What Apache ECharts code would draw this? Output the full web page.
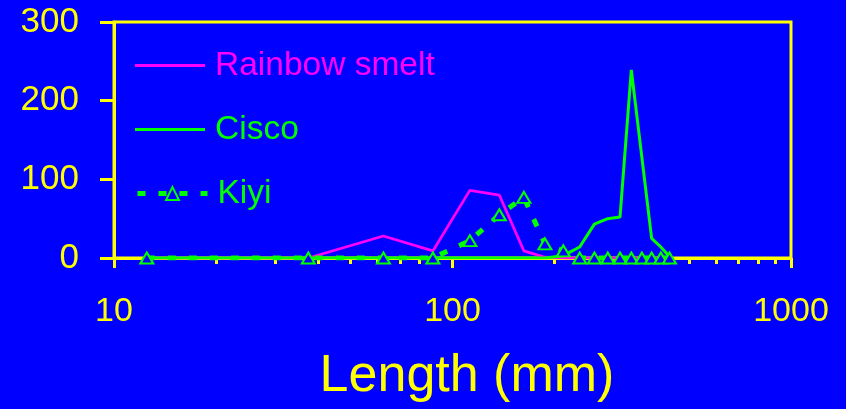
<!DOCTYPE html>
<html>
<head>
<meta charset="utf-8">
<script src="https://cdn.jsdelivr.net/npm/echarts@6/dist/echarts.min.js"></script>
<style>
html,body{margin:0;padding:0;background:#0000FF;}
#chart{width:846px;height:409px;}
</style>
</head>
<body>
<div id="chart"></div>
<script>
// Length bin midpoints (mm)
var lengths = [12.5, 37.5, 62.5, 87.5, 112.5, 137.5, 162.5, 187.5, 212.5, 237.5, 262.5, 287.5, 312.5, 337.5, 362.5, 387.5, 412.5, 437.5];
var rainbowSmelt = [0, 0, 28, 9, 86, 80, 9, 1, 0, 0, 0, 0, 0, 0, 0, 0, 0, 0];
var cisco = [0, 0, 0, 0, 0, 0, 0, 0, 3, 14, 43, 50, 52, 239, null, 25, 14, 2];
var kiyi = [0, 0, 0, 0, 22, 55, 77, 18, 9, 0, 0, 0, 0, 0, 0, 0, 0, 0];
var xTicksMinor = [20, 30, 40, 50, 60, 70, 80, 90, 200, 300, 400, 500, 600, 700, 800, 900];
var yTicks = [0, 100, 200, 300];
var xTitle = 'Length (mm)';

function pairs(vals) {
  return lengths.map(function (x, i) { return [x, vals[i]]; });
}

var FONT = '"Liberation Sans", Arial, sans-serif';
var YEL = '#FFFF00', GRN = '#00FF00', MAG = '#FF00FF', BLU = '#0000FF';
var legendText = function (c) {
  return {color: c, fontSize: 33.5, fontFamily: FONT, lineHeight: 36, padding: [7, 0, 0, 5]};
};

var chart = echarts.init(document.getElementById('chart'), null, {renderer: 'canvas'});
chart.setOption({
  backgroundColor: BLU,
  animation: false,
  grid: {left: 114, right: 55, top: 22, bottom: 151, show: true, borderColor: YEL, borderWidth: 3, backgroundColor: 'transparent'},
  legend: [
    {data: [{name: 'Rainbow smelt', icon: 'rect'}], orient: 'vertical', left: 135, top: 44, padding: 0, itemWidth: 70, itemHeight: 3,
     textStyle: legendText(MAG)},
    {data: [{name: 'Cisco', icon: 'rect'}], orient: 'vertical', left: 135, top: 108, padding: 0, itemWidth: 70, itemHeight: 3,
     textStyle: legendText(GRN)},
    {data: ['Kiyi'], orient: 'vertical', left: 135, top: 172, padding: 0, itemWidth: 70, itemHeight: 16,
     lineStyle: {color: GRN, width: 5, type: [8, 13]},
     itemStyle: {color: BLU, borderColor: GRN, borderWidth: 2},
     textStyle: legendText(GRN)}
  ],
  xAxis: [
    {type: 'log', logBase: 10, min: 10, max: 1000, position: 'bottom',
     axisLine: {show: true, lineStyle: {color: YEL, width: 3}},
     axisTick: {show: true, length: 10, lineStyle: {color: YEL, width: 3}},
     axisLabel: {color: YEL, fontSize: 34, fontFamily: FONT, margin: 37,
       formatter: function (v) { return String(Math.round(v)); }},
     splitLine: {show: false}, minorTick: {show: false}},
    {type: 'log', logBase: 10, min: 10, max: 1000, position: 'bottom', gridIndex: 0,
     axisLine: {show: false},
     axisTick: {show: true, length: 6, customValues: xTicksMinor, lineStyle: {color: YEL, width: 3}},
     axisLabel: {show: false},
     splitLine: {show: false}}
  ],
  yAxis: {type: 'value', min: 0, max: 300, interval: 100,
    axisLine: {show: true, lineStyle: {color: YEL, width: 3}},
    axisTick: {show: true, length: 14, lineStyle: {color: YEL, width: 3}},
    axisLabel: {color: YEL, fontSize: 35, fontFamily: FONT, margin: 35, customValues: yTicks},
    splitLine: {show: false}},
  graphic: [{type: 'text', x: 467, y: 377,
    style: {text: xTitle, fill: YEL, font: '52px ' + FONT, textAlign: 'center', textVerticalAlign: 'middle'}}],
  series: [
    {name: 'Rainbow smelt', type: 'line', data: pairs(rainbowSmelt), symbol: 'none', color: MAG,
     lineStyle: {color: MAG, width: 2.75}, z: 2},
    {name: 'Cisco', type: 'line', data: pairs(cisco), symbol: 'none', color: GRN, connectNulls: true,
     lineStyle: {color: GRN, width: 3}, z: 3},
    {name: 'Kiyi', type: 'line', data: pairs(kiyi), symbol: 'triangle', symbolSize: [13, 11], color: GRN,
     itemStyle: {color: BLU, borderColor: GRN, borderWidth: 2},
     lineStyle: {color: GRN, width: 5, type: [8, 13]}, z: 4}
  ]
});
</script>
</body>
</html>
